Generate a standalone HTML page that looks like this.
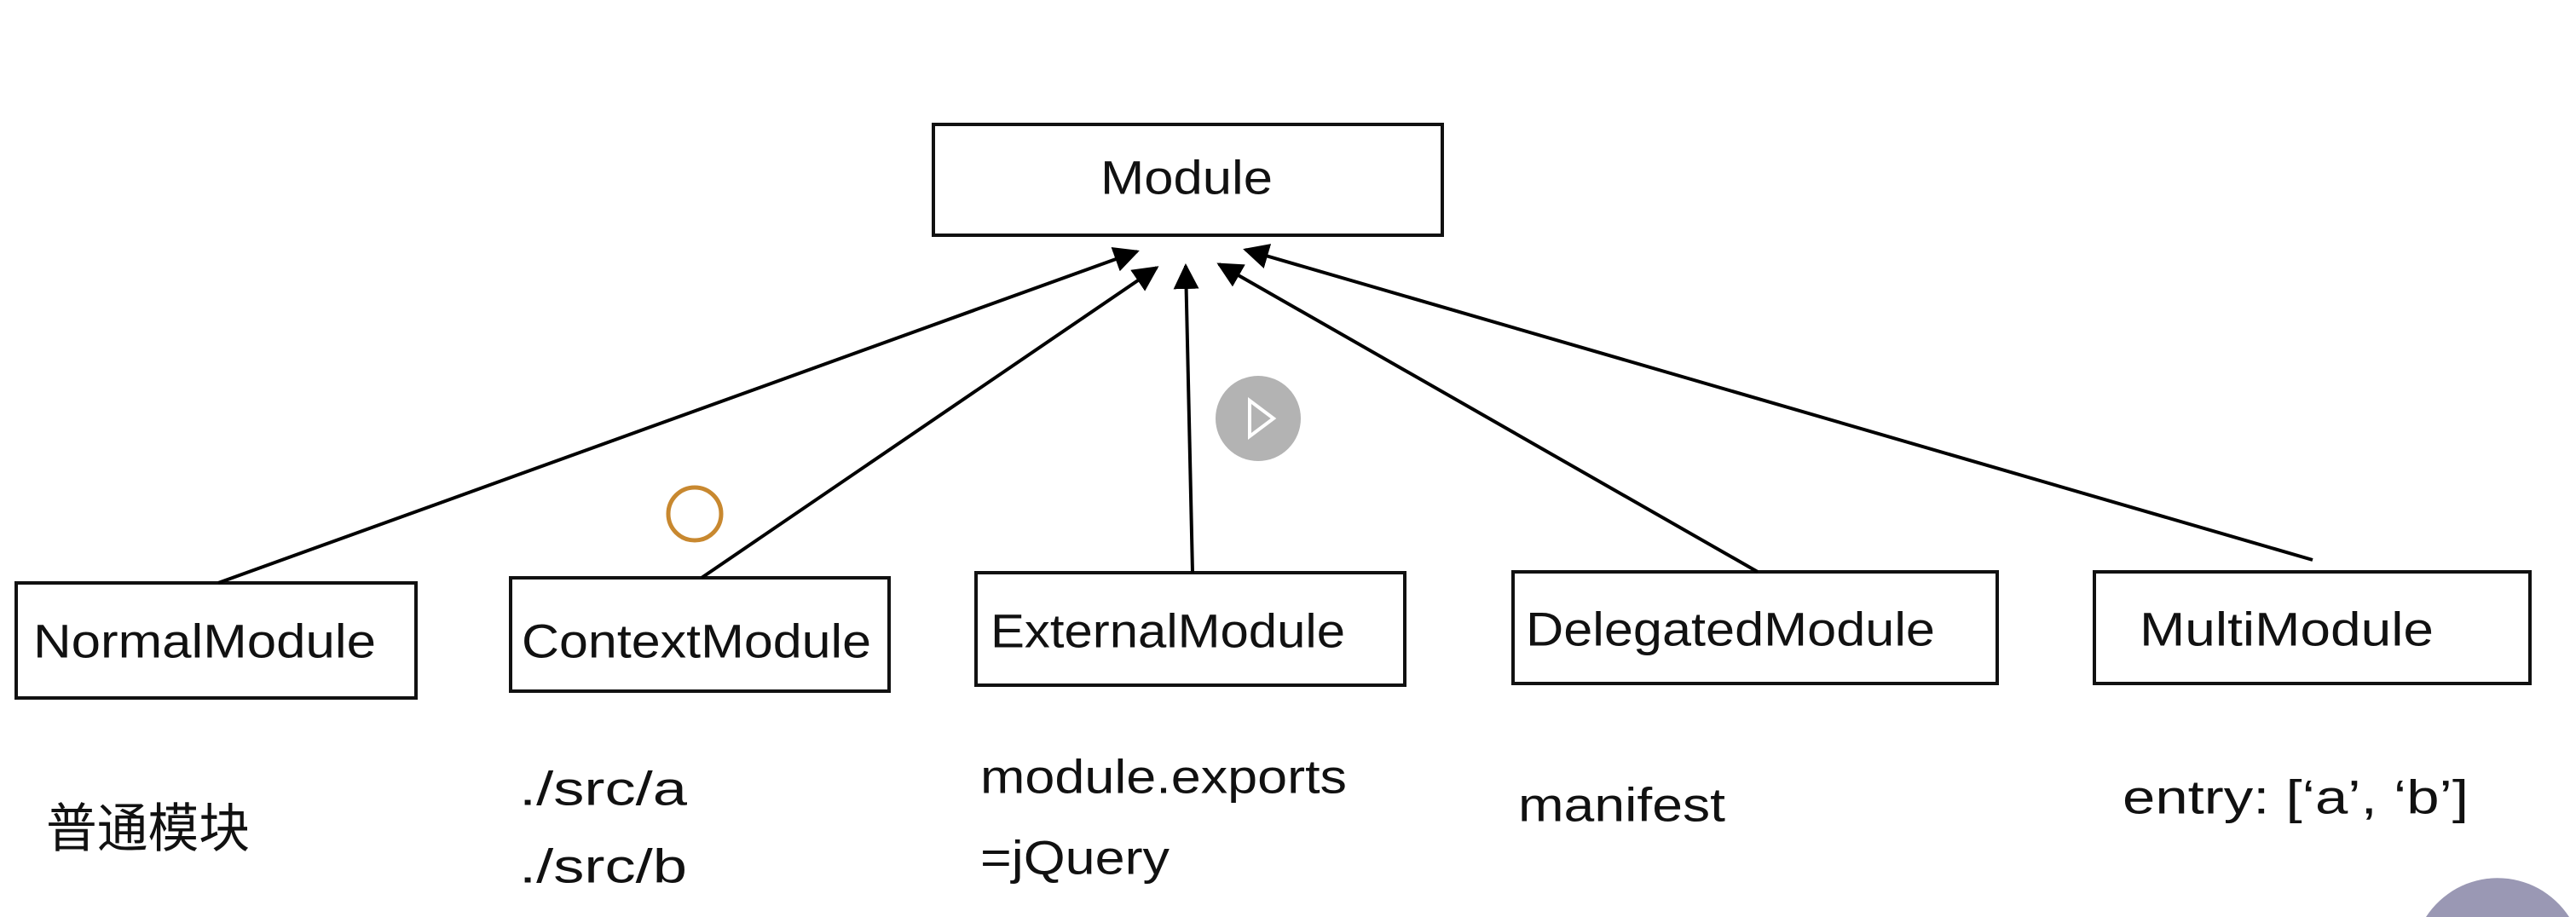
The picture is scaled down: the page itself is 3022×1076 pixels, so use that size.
<!DOCTYPE html>
<html><head><meta charset="utf-8"><style>html,body{margin:0;padding:0;background:#fff;width:3022px;height:1076px;overflow:hidden}svg{display:block}</style></head>
<body>
<svg width="3022" height="1076" viewBox="0 0 3022 1076" xmlns="http://www.w3.org/2000/svg">
<defs><marker id="a" viewBox="0 0 10 10" refX="9" refY="5" markerWidth="30" markerHeight="30" markerUnits="userSpaceOnUse" orient="auto"><path d="M0,0 L10,5 L0,10 z" fill="#000"/></marker></defs>
<rect width="3022" height="1076" fill="#fff"/>
<g fill="none" stroke="#111" stroke-width="4">
<rect x="1095" y="146" width="597" height="130"/>
<rect x="19" y="684" width="469" height="135"/>
<rect x="599" y="678" width="444" height="133"/>
<rect x="1145" y="672" width="503" height="132"/>
<rect x="1775" y="671" width="568" height="131"/>
<rect x="2457" y="671" width="511" height="131"/>
</g>
<g stroke="#000" stroke-width="4" marker-end="url(#a)">
<line x1="256" y1="684" x2="1334" y2="295"/>
<line x1="823" y1="678" x2="1357" y2="314"/>
<line x1="1399" y1="672" x2="1391" y2="312"/>
<line x1="2062" y1="671" x2="1430" y2="310"/>
<line x1="2713" y1="657" x2="1461" y2="293"/>
</g>
<circle cx="815" cy="603" r="31" fill="none" stroke="#c8882f" stroke-width="5"/>
<circle cx="1476" cy="491" r="50" fill="#b3b3b3"/>
<path d="M1466,470 L1494,491 L1466,512 z" fill="none" stroke="#fff" stroke-width="4"/>
<path d="M2846,1076 A100,100 0 0 1 3014,1076 Z" fill="#9a98b4"/>
<g font-family="Liberation Sans, sans-serif" font-size="56" fill="#111" dominant-baseline="central">
<text x="1291" y="208" textLength="202" lengthAdjust="spacingAndGlyphs">Module</text>
<text x="39" y="752" textLength="402" lengthAdjust="spacingAndGlyphs">NormalModule</text>
<text x="612" y="752" textLength="410" lengthAdjust="spacingAndGlyphs">ContextModule</text>
<text x="1162" y="740" textLength="416" lengthAdjust="spacingAndGlyphs">ExternalModule</text>
<text x="1790" y="738" textLength="480" lengthAdjust="spacingAndGlyphs">DelegatedModule</text>
<text x="2510" y="738" textLength="345" lengthAdjust="spacingAndGlyphs">MultiModule</text>
<text x="54" y="973" font-size="62" textLength="239" lengthAdjust="spacingAndGlyphs" font-family="Liberation Sans, Noto Sans CJK SC, sans-serif">普通模块</text>
<text x="609" y="925" textLength="197" lengthAdjust="spacingAndGlyphs">./src/a</text>
<text x="609" y="1016" textLength="197" lengthAdjust="spacingAndGlyphs">./src/b</text>
<text x="1150" y="911" textLength="430" lengthAdjust="spacingAndGlyphs">module.exports</text>
<text x="1150" y="1006" textLength="222" lengthAdjust="spacingAndGlyphs">=jQuery</text>
<text x="1781" y="944" textLength="243" lengthAdjust="spacingAndGlyphs">manifest</text>
<text x="2490" y="935" textLength="406" lengthAdjust="spacingAndGlyphs">entry: [‘a’, ‘b’]</text>
</g>
</svg>
</body></html>
